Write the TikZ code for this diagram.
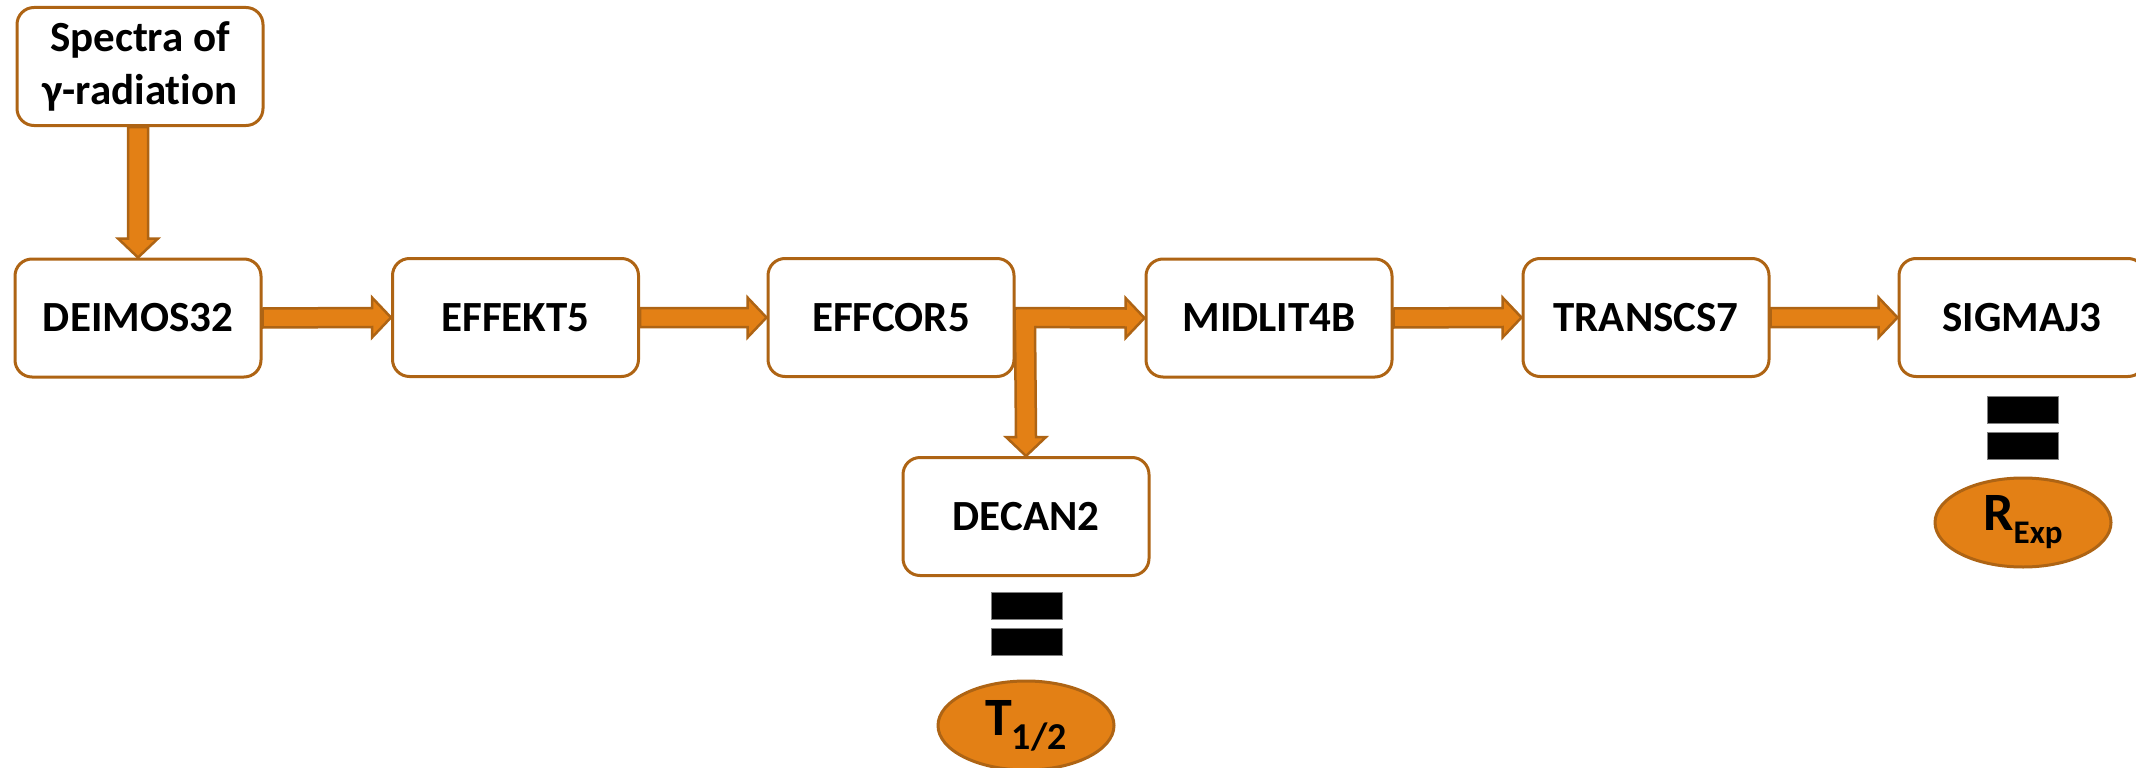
\documentclass[tikz,border=0pt]{standalone}
\usepackage{fontspec}
\setmainfont{Carlito}[Ligatures=NoCommon]
\usetikzlibrary{calc,shapes.geometric}
\definecolor{borange}{HTML}{E38015}
\definecolor{bborder}{HTML}{AE6414}
\tikzset{
  procbox/.style={draw=bborder, line width=3pt, fill=white, rounded corners=17pt,
    minimum width=246pt, minimum height=118pt, inner sep=0pt,
    font=\fontsize{43}{53}\selectfont\bfseries, align=center},
  blockarrow/.style={draw=bborder, fill=borange, line width=2.5pt, line join=miter},
  eqbar/.style={draw=gray, line width=0.8pt, fill=black, minimum width=71pt, minimum height=27pt, inner sep=0pt},
  result/.style={ellipse, draw=bborder, fill=borange, line width=3pt, minimum width=176pt, minimum height=89pt, inner sep=0pt, font=\bfseries}
}
\newcommand\harrow[2]{%
  \draw[blockarrow] ($(#1.east)+(0,-9.5)$) -- ($(#2.west)+(-19,-9.5)$) -- ($(#2.west)+(-19,-20)$) -- (#2.west)
    -- ($(#2.west)+(-19,20)$) -- ($(#2.west)+(-19,9.5)$) -- ($(#1.east)+(0,9.5)$) -- cycle;}
\newcommand\varrow[2]{%
  \draw[blockarrow] ($(#1)+(-10,0)$) -- ($(#2.north)+(-10,-19)$) -- ($(#2.north)+(-20,-19)$) -- (#2.north)
    -- ($(#2.north)+(20,-19)$) -- ($(#2.north)+(10,-19)$) -- ($(#1)+(10,0)$) -- cycle;}
\begin{document}
\begin{tikzpicture}[x=1pt,y=-1pt]
\useasboundingbox (0,0) rectangle (2136,768);
\clip (0,0) rectangle (2136,768);
\node[procbox] (spec) at (140,66.5) {Spectra of\\γ-radiation};
\node[procbox] (deimos) at (138,318) {DEIMOS32};
\node[procbox] (effekt) at (515.5,317.5) {EFFEKT5};
\node[procbox] (effcor) at (891,317.5) {EFFCOR5};
\node[procbox] (midlit) at (1269,318) {MIDLIT4B};
\node[procbox] (transcs) at (1646,317.5) {TRANSCS7};
\node[procbox] (sigmaj) at (2022,317.5) {SIGMAJ3};
\node[procbox] (decan) at (1026,516.5) {DECAN2};
\coordinate (specout) at (deimos.north |- spec.south);
\varrow{specout}{deimos}
\harrow{deimos}{effekt}
\harrow{effekt}{effcor}
\harrow{effcor}{midlit}
\harrow{midlit}{transcs}
\harrow{transcs}{sigmaj}
\coordinate (branch) at (1025,318);
\draw[blockarrow] ($(branch)+(-10,8)$) -- ($(decan.north)+(-10,-19)$) -- ($(decan.north)+(-20,-19)$) -- (decan.north)
    -- ($(decan.north)+(20,-19)$) -- ($(decan.north)+(10,-19)$) -- ($(branch)+(10,8)$);
\fill[borange] ($(branch)+(-8.7,-8)$) rectangle ($(branch)+(8.7,12)$);
\node[eqbar] (d1) at (1026.5,605.5) {};
\node[eqbar] (d2) at (1026.5,642) {};
\node[eqbar] (s1) at (2023,409.5) {};
\node[eqbar] (s2) at (2023,445.5) {};
\node[result] (thalf) at (1026,725.5) {\fontsize{54}{60}\selectfont T\raisebox{-14pt}{\fontsize{38}{42}\selectfont 1/2}};
\node[result] (rexp) at (2023,522.5) {\fontsize{54}{60}\selectfont R\raisebox{-13pt}{\fontsize{33}{38}\selectfont Exp}};
\end{tikzpicture}
\end{document}
